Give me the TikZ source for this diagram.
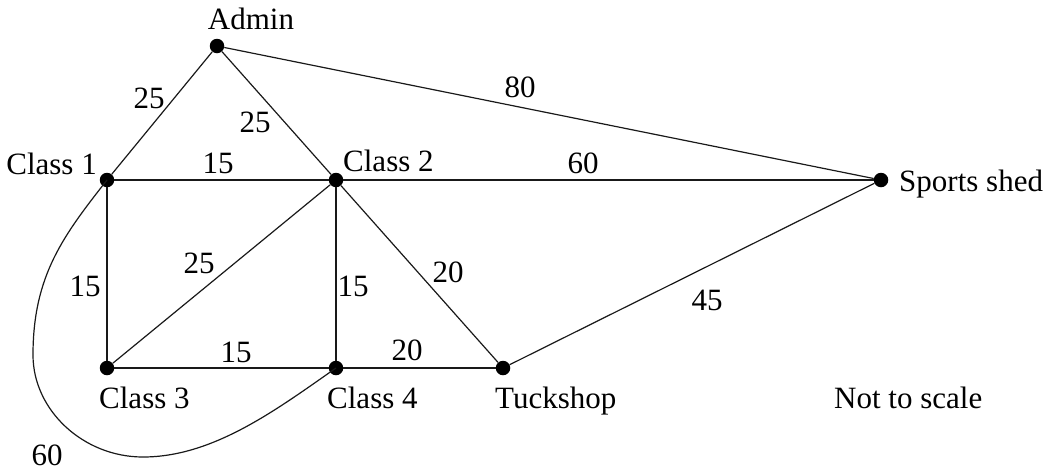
\documentclass[tikz,border=0pt]{standalone}
\usepackage{fontspec}
\setmainfont{Liberation Serif}
\begin{document}
\begin{tikzpicture}[x=1pt,y=-1pt,
  dot/.style={circle,fill=black,inner sep=0pt,minimum size=14.5pt},
  edge/.style={draw=black!90,line width=1.2pt},
  lbl/.style={inner sep=0pt,font=\fontsize{31}{36}\selectfont},
  txt/.style={inner sep=0pt,font=\fontsize{31}{36}\selectfont}]
\useasboundingbox (0,0) rectangle (1050,472);
% vertices
\node[dot] (ad) at (217,46) {};
\node[dot] (c1) at (107,180) {};
\node[dot] (c2) at (336,180) {};
\node[dot] (sp) at (881,180) {};
\node[dot] (c3) at (107,368) {};
\node[dot] (c4) at (336,368) {};
\node[dot] (tu) at (503,368) {};
% vertex names
\node[txt,anchor=base] (tad) at (251,29) {Admin};
\node[txt,anchor=base east] (tc1) at (97,174) {Class 1};
\node[txt,anchor=base west] (tc2) at (343,171) {Class 2};
\node[txt,anchor=base west] (tsp) at (899,191) {Sports shed};
\node[txt,anchor=base west] (tc3) at (99,408) {Class 3};
\node[txt,anchor=base west] (tc4) at (327,408) {Class 4};
\node[txt,anchor=base west] (ttu) at (495,408) {Tuckshop};
\node[txt,anchor=base west] (tns) at (834,408) {Not to scale};
% edges
\draw[edge] (c1) -- (ad);
\draw[edge] (ad) -- (c2);
\draw[edge] (ad) -- (sp);
\draw[edge] (c1) -- (c2);
\draw[edge] (c2) -- (sp);
\draw[edge] (c1) -- (c3);
\draw[edge] (c3) -- (c2);
\draw[edge] (c2) -- (c4);
\draw[edge] (c2) -- (tu);
\draw[edge] (c3) -- (c4);
\draw[edge] (c4) -- (tu);
\draw[edge] (tu) -- (sp);
\draw[edge] (c1.center) .. controls (64,235) and (33,275) .. (33,355)
   .. controls (33,410) and (83,457) .. (143,457)
   .. controls (213,457) and (276,410) .. (c4.center);
% weights
\node[lbl] (w1) at (149,98) {25};
\node[lbl] (w2) at (255,122) {25};
\node[lbl] (w3) at (218,163) {15};
\node[lbl] (w4) at (520,87) {80};
\node[lbl] (w5) at (583,163) {60};
\node[lbl] (w6) at (85,286) {15};
\node[lbl] (w7) at (199,263) {25};
\node[lbl] (w8) at (236,352) {15};
\node[lbl] (w9) at (353,286) {15};
\node[lbl] (w10) at (448,272) {20};
\node[lbl] (w11) at (407,350) {20};
\node[lbl] (w12) at (707,300) {45};
\node[lbl] (w13) at (47,455) {60};
\end{tikzpicture}
\end{document}
